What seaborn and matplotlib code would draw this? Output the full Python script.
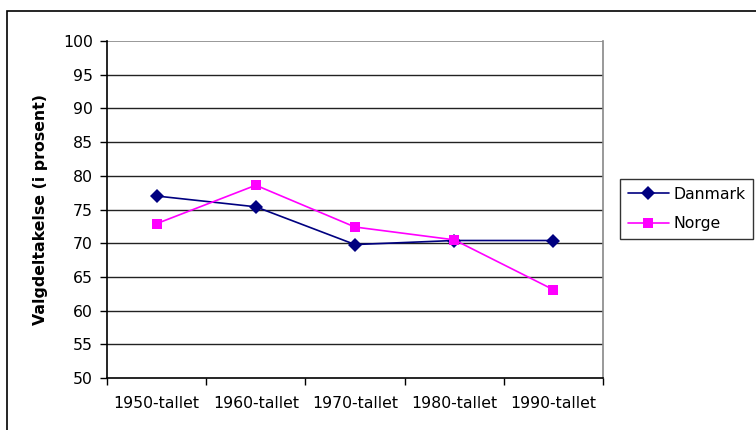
import matplotlib
matplotlib.use("Agg")
import matplotlib.pyplot as plt
import seaborn as sns
import pandas as pd
from matplotlib.patches import Rectangle

categories = ["1950-tallet", "1960-tallet", "1970-tallet", "1980-tallet", "1990-tallet"]
danmark = [77.0, 75.4, 69.8, 70.4, 70.4]
norge = [72.9, 78.6, 72.4, 70.5, 63.1]
series_names = ["Danmark", "Norge"]
y_ticks = list(range(50, 101, 5))

df = pd.DataFrame({
    "Tiår": categories * 2,
    "Valgdeltakelse": danmark + norge,
    "Land": [series_names[0]] * len(categories) + [series_names[1]] * len(categories),
})

sns.set_theme(style="white")
plt.rcParams["font.family"] = ["DejaVu Sans"]
plt.rcParams["text.color"] = "black"
plt.rcParams["axes.labelcolor"] = "black"
plt.rcParams["xtick.color"] = "black"
plt.rcParams["ytick.color"] = "black"
FS = 11.3

fig = plt.figure(figsize=(7.56, 4.30), dpi=100)
W, H = 756, 430
ax = fig.add_axes([107 / W, 1 - 378 / H, (603 - 107) / W, (378 - 41) / H])

# outer chart border (extends beyond image right/bottom)
fig.patches.append(Rectangle((7 / W, -0.1), 1.2, 1 - 11 / H + 0.1, transform=fig.transFigure,
                             fill=False, edgecolor="black", linewidth=1.2, zorder=0))

sns.lineplot(data=df, x="Tiår", y="Valgdeltakelse", hue="Land", style="Land",
             palette={"Danmark": "#000080", "Norge": "#FF00FF"},
             markers={"Danmark": "D", "Norge": "s"}, dashes=False,
             markersize=7, linewidth=1.2, markeredgewidth=0, ax=ax, sort=False)

ax.set_ylim(50, 100)
ax.set_xlim(-0.5, 4.5)
ax.set_yticks(y_ticks)
ax.set_yticklabels([str(t) for t in y_ticks], fontsize=FS, color="black")
ax.set_xticks(range(len(categories)))
ax.set_xticklabels(categories, fontsize=FS, color="black")
ax.tick_params(axis="x", length=0, pad=13)
ax.tick_params(axis="y", length=5, width=1, color="black", direction="out", left=True, pad=5)
# x category boundary ticks
ax.set_xticks([i - 0.5 for i in range(len(categories) + 1)], minor=True)
ax.tick_params(axis="x", which="minor", length=5, width=1, color="black", direction="out", bottom=True)

for t in y_ticks[1:-1]:
    ax.axhline(t, color="#222222", linewidth=1, zorder=0)
ax.axhline(100, color="#888888", linewidth=1.2, zorder=0)

ax.set_xlabel("")
ax.set_ylabel("Valgdeltakelse (i prosent)", fontsize=FS, fontweight="bold", color="black")
ax.yaxis.set_label_coords(-(107 - 41) / (603 - 107), 0.5)
ax.yaxis.label.set_verticalalignment("center")

for s in ["left", "bottom"]:
    ax.spines[s].set_color("black")
    ax.spines[s].set_linewidth(1.2)
ax.spines["right"].set_color("#888888")
ax.spines["right"].set_linewidth(1.2)
ax.spines["top"].set_visible(False)

handles, labels = ax.get_legend_handles_labels()
leg = ax.legend(handles, labels, loc="center left", bbox_to_anchor=(620 / W, 1 - 209 / H),
                bbox_transform=fig.transFigure, frameon=True, fontsize=FS,
                handlelength=2.6, borderpad=0.5, labelspacing=0.9, handletextpad=0.3,
                fancybox=False, borderaxespad=0)
leg.get_frame().set_edgecolor("black")
leg.get_frame().set_linewidth(1)
for txt in leg.get_texts():
    txt.set_color("black")

fig.savefig("out.png", dpi=100)
